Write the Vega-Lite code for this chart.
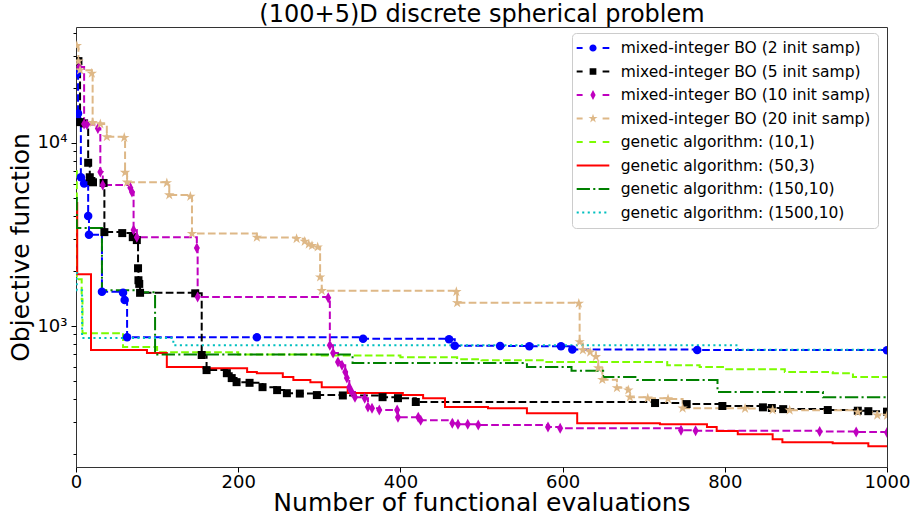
{
"$schema": "https://vega.github.io/schema/vega-lite/v6.json",
"width": 811, "height": 440,
"autosize": {"type": "none"},
"padding": {"left": 76, "top": 27, "right": 24, "bottom": 54},
"background": "white",
"config": {"font": "DejaVu Sans", "view": {"stroke": "#333", "strokeWidth": 1}, "axis": {"grid": false, "domain": false, "tickColor": "#000", "labelColor": "#000", "titleColor": "#000", "titleFontWeight": "normal"}},
"data": {"values": [
{"series":"mixed-integer BO (2 init samp)","x":1,"y":24000},{"series":"mixed-integer BO (2 init samp)","x":2.5,"y":14500},{"series":"mixed-integer BO (2 init samp)","x":3.5,"y":13200},{"series":"mixed-integer BO (2 init samp)","x":6,"y":6500},{"series":"mixed-integer BO (2 init samp)","x":10,"y":6000},{"series":"mixed-integer BO (2 init samp)","x":15,"y":3990},{"series":"mixed-integer BO (2 init samp)","x":16,"y":3150},{"series":"mixed-integer BO (2 init samp)","x":32,"y":1540},{"series":"mixed-integer BO (2 init samp)","x":58,"y":1520},{"series":"mixed-integer BO (2 init samp)","x":60,"y":1390},{"series":"mixed-integer BO (2 init samp)","x":63,"y":870},{"series":"mixed-integer BO (2 init samp)","x":223,"y":868},{"series":"mixed-integer BO (2 init samp)","x":354,"y":852},{"series":"mixed-integer BO (2 init samp)","x":460,"y":848},{"series":"mixed-integer BO (2 init samp)","x":467,"y":780},{"series":"mixed-integer BO (2 init samp)","x":523,"y":778},{"series":"mixed-integer BO (2 init samp)","x":559,"y":777},{"series":"mixed-integer BO (2 init samp)","x":598,"y":775},{"series":"mixed-integer BO (2 init samp)","x":612,"y":745},{"series":"mixed-integer BO (2 init samp)","x":766,"y":740},{"series":"mixed-integer BO (2 init samp)","x":1000,"y":738},
{"series":"mixed-integer BO (5 init samp)","x":3,"y":28000},{"series":"mixed-integer BO (5 init samp)","x":5,"y":13000},{"series":"mixed-integer BO (5 init samp)","x":10,"y":12800},{"series":"mixed-integer BO (5 init samp)","x":15,"y":7800},{"series":"mixed-integer BO (5 init samp)","x":17,"y":6500},{"series":"mixed-integer BO (5 init samp)","x":19,"y":6200},{"series":"mixed-integer BO (5 init samp)","x":21,"y":6100},{"series":"mixed-integer BO (5 init samp)","x":34,"y":6050},{"series":"mixed-integer BO (5 init samp)","x":35,"y":3260},{"series":"mixed-integer BO (5 init samp)","x":57,"y":3220},{"series":"mixed-integer BO (5 init samp)","x":70,"y":3060},{"series":"mixed-integer BO (5 init samp)","x":75,"y":2950},{"series":"mixed-integer BO (5 init samp)","x":76.5,"y":2070},{"series":"mixed-integer BO (5 init samp)","x":77,"y":1780},{"series":"mixed-integer BO (5 init samp)","x":78,"y":1700},{"series":"mixed-integer BO (5 init samp)","x":79,"y":1520},{"series":"mixed-integer BO (5 init samp)","x":147,"y":1510},{"series":"mixed-integer BO (5 init samp)","x":155,"y":695},{"series":"mixed-integer BO (5 init samp)","x":161,"y":575},{"series":"mixed-integer BO (5 init samp)","x":186,"y":553},{"series":"mixed-integer BO (5 init samp)","x":192,"y":520},{"series":"mixed-integer BO (5 init samp)","x":198,"y":494},{"series":"mixed-integer BO (5 init samp)","x":214,"y":490},{"series":"mixed-integer BO (5 init samp)","x":230,"y":464},{"series":"mixed-integer BO (5 init samp)","x":248,"y":447},{"series":"mixed-integer BO (5 init samp)","x":260,"y":430},{"series":"mixed-integer BO (5 init samp)","x":276,"y":428},{"series":"mixed-integer BO (5 init samp)","x":297,"y":420},{"series":"mixed-integer BO (5 init samp)","x":329,"y":418},{"series":"mixed-integer BO (5 init samp)","x":378,"y":409},{"series":"mixed-integer BO (5 init samp)","x":397,"y":404},{"series":"mixed-integer BO (5 init samp)","x":419,"y":385},{"series":"mixed-integer BO (5 init samp)","x":714,"y":380},{"series":"mixed-integer BO (5 init samp)","x":753,"y":375},{"series":"mixed-integer BO (5 init samp)","x":797,"y":366},{"series":"mixed-integer BO (5 init samp)","x":847,"y":360},{"series":"mixed-integer BO (5 init samp)","x":858,"y":357},{"series":"mixed-integer BO (5 init samp)","x":872,"y":352},{"series":"mixed-integer BO (5 init samp)","x":927,"y":348},{"series":"mixed-integer BO (5 init samp)","x":964,"y":345},{"series":"mixed-integer BO (5 init samp)","x":977,"y":343},{"series":"mixed-integer BO (5 init samp)","x":1000,"y":341},
{"series":"mixed-integer BO (10 init samp)","x":4,"y":26000},{"series":"mixed-integer BO (10 init samp)","x":10,"y":12700},{"series":"mixed-integer BO (10 init samp)","x":13.5,"y":12600},{"series":"mixed-integer BO (10 init samp)","x":27,"y":12000},{"series":"mixed-integer BO (10 init samp)","x":30,"y":6950},{"series":"mixed-integer BO (10 init samp)","x":33,"y":5900},{"series":"mixed-integer BO (10 init samp)","x":67,"y":5700},{"series":"mixed-integer BO (10 init samp)","x":69,"y":5400},{"series":"mixed-integer BO (10 init samp)","x":71,"y":3350},{"series":"mixed-integer BO (10 init samp)","x":75,"y":3060},{"series":"mixed-integer BO (10 init samp)","x":149,"y":2670},{"series":"mixed-integer BO (10 init samp)","x":150,"y":1440},{"series":"mixed-integer BO (10 init samp)","x":311,"y":1430},{"series":"mixed-integer BO (10 init samp)","x":313,"y":787},{"series":"mixed-integer BO (10 init samp)","x":317,"y":712},{"series":"mixed-integer BO (10 init samp)","x":323,"y":636},{"series":"mixed-integer BO (10 init samp)","x":328,"y":612},{"series":"mixed-integer BO (10 init samp)","x":332,"y":561},{"series":"mixed-integer BO (10 init samp)","x":334,"y":520},{"series":"mixed-integer BO (10 init samp)","x":337,"y":464},{"series":"mixed-integer BO (10 init samp)","x":340,"y":436},{"series":"mixed-integer BO (10 init samp)","x":344,"y":409},{"series":"mixed-integer BO (10 init samp)","x":356,"y":404},{"series":"mixed-integer BO (10 init samp)","x":360,"y":361},{"series":"mixed-integer BO (10 init samp)","x":365,"y":356},{"series":"mixed-integer BO (10 init samp)","x":374,"y":348},{"series":"mixed-integer BO (10 init samp)","x":396,"y":348},{"series":"mixed-integer BO (10 init samp)","x":397,"y":318},{"series":"mixed-integer BO (10 init samp)","x":422,"y":318},{"series":"mixed-integer BO (10 init samp)","x":425,"y":306},{"series":"mixed-integer BO (10 init samp)","x":464,"y":295},{"series":"mixed-integer BO (10 init samp)","x":471,"y":291},{"series":"mixed-integer BO (10 init samp)","x":483,"y":291},{"series":"mixed-integer BO (10 init samp)","x":496,"y":288},{"series":"mixed-integer BO (10 init samp)","x":582,"y":281},{"series":"mixed-integer BO (10 init samp)","x":597,"y":277},{"series":"mixed-integer BO (10 init samp)","x":746,"y":270},{"series":"mixed-integer BO (10 init samp)","x":764,"y":268},{"series":"mixed-integer BO (10 init samp)","x":917,"y":266},{"series":"mixed-integer BO (10 init samp)","x":962,"y":264},{"series":"mixed-integer BO (10 init samp)","x":1000,"y":262},
{"series":"mixed-integer BO (20 init samp)","x":1,"y":34000},{"series":"mixed-integer BO (20 init samp)","x":3,"y":28000},{"series":"mixed-integer BO (20 init samp)","x":5,"y":25000},{"series":"mixed-integer BO (20 init samp)","x":19.5,"y":24000},{"series":"mixed-integer BO (20 init samp)","x":20.5,"y":12900},{"series":"mixed-integer BO (20 init samp)","x":30,"y":12700},{"series":"mixed-integer BO (20 init samp)","x":38,"y":10800},{"series":"mixed-integer BO (20 init samp)","x":59.5,"y":10700},{"series":"mixed-integer BO (20 init samp)","x":60.5,"y":6900},{"series":"mixed-integer BO (20 init samp)","x":63,"y":6100},{"series":"mixed-integer BO (20 init samp)","x":112,"y":6050},{"series":"mixed-integer BO (20 init samp)","x":115,"y":5200},{"series":"mixed-integer BO (20 init samp)","x":141,"y":5100},{"series":"mixed-integer BO (20 init samp)","x":143,"y":3200},{"series":"mixed-integer BO (20 init samp)","x":223,"y":3050},{"series":"mixed-integer BO (20 init samp)","x":272,"y":3000},{"series":"mixed-integer BO (20 init samp)","x":282,"y":2900},{"series":"mixed-integer BO (20 init samp)","x":287,"y":2800},{"series":"mixed-integer BO (20 init samp)","x":291,"y":2750},{"series":"mixed-integer BO (20 init samp)","x":298,"y":2700},{"series":"mixed-integer BO (20 init samp)","x":301,"y":1850},{"series":"mixed-integer BO (20 init samp)","x":303,"y":1560},{"series":"mixed-integer BO (20 init samp)","x":469,"y":1540},{"series":"mixed-integer BO (20 init samp)","x":470,"y":1340},{"series":"mixed-integer BO (20 init samp)","x":620,"y":1330},{"series":"mixed-integer BO (20 init samp)","x":621,"y":820},{"series":"mixed-integer BO (20 init samp)","x":625,"y":740},{"series":"mixed-integer BO (20 init samp)","x":634,"y":720},{"series":"mixed-integer BO (20 init samp)","x":641,"y":680},{"series":"mixed-integer BO (20 init samp)","x":644,"y":590},{"series":"mixed-integer BO (20 init samp)","x":649,"y":510},{"series":"mixed-integer BO (20 init samp)","x":667,"y":460},{"series":"mixed-integer BO (20 init samp)","x":681,"y":447},{"series":"mixed-integer BO (20 init samp)","x":683,"y":409},{"series":"mixed-integer BO (20 init samp)","x":705,"y":404},{"series":"mixed-integer BO (20 init samp)","x":730,"y":400},{"series":"mixed-integer BO (20 init samp)","x":748,"y":356},{"series":"mixed-integer BO (20 init samp)","x":825,"y":355},{"series":"mixed-integer BO (20 init samp)","x":859,"y":348},{"series":"mixed-integer BO (20 init samp)","x":880,"y":347},{"series":"mixed-integer BO (20 init samp)","x":964,"y":339},{"series":"mixed-integer BO (20 init samp)","x":988,"y":326},{"series":"mixed-integer BO (20 init samp)","x":1000,"y":325},
{"series":"genetic algorithm: (10,1)","x":0,"y":7000},{"series":"genetic algorithm: (10,1)","x":1,"y":1800},{"series":"genetic algorithm: (10,1)","x":7,"y":1400},{"series":"genetic algorithm: (10,1)","x":8,"y":915},{"series":"genetic algorithm: (10,1)","x":58,"y":770},{"series":"genetic algorithm: (10,1)","x":100,"y":720},{"series":"genetic algorithm: (10,1)","x":200,"y":700},{"series":"genetic algorithm: (10,1)","x":300,"y":690},{"series":"genetic algorithm: (10,1)","x":400,"y":675},{"series":"genetic algorithm: (10,1)","x":470,"y":660},{"series":"genetic algorithm: (10,1)","x":500,"y":650},{"series":"genetic algorithm: (10,1)","x":580,"y":636},{"series":"genetic algorithm: (10,1)","x":729,"y":612},{"series":"genetic algorithm: (10,1)","x":769,"y":597},{"series":"genetic algorithm: (10,1)","x":800,"y":582},{"series":"genetic algorithm: (10,1)","x":874,"y":561},{"series":"genetic algorithm: (10,1)","x":933,"y":553},{"series":"genetic algorithm: (10,1)","x":958,"y":527},{"series":"genetic algorithm: (10,1)","x":1000,"y":527},
{"series":"genetic algorithm: (50,3)","x":0,"y":4700},{"series":"genetic algorithm: (50,3)","x":1.5,"y":1920},{"series":"genetic algorithm: (50,3)","x":18.5,"y":740},{"series":"genetic algorithm: (50,3)","x":87.5,"y":712},{"series":"genetic algorithm: (50,3)","x":112,"y":597},{"series":"genetic algorithm: (50,3)","x":157,"y":589},{"series":"genetic algorithm: (50,3)","x":211,"y":561},{"series":"genetic algorithm: (50,3)","x":223,"y":553},{"series":"genetic algorithm: (50,3)","x":255,"y":527},{"series":"genetic algorithm: (50,3)","x":268,"y":507},{"series":"genetic algorithm: (50,3)","x":289,"y":494},{"series":"genetic algorithm: (50,3)","x":303,"y":464},{"series":"genetic algorithm: (50,3)","x":335,"y":431},{"series":"genetic algorithm: (50,3)","x":403,"y":420},{"series":"genetic algorithm: (50,3)","x":428,"y":404},{"series":"genetic algorithm: (50,3)","x":455,"y":361},{"series":"genetic algorithm: (50,3)","x":508,"y":356},{"series":"genetic algorithm: (50,3)","x":556,"y":334},{"series":"genetic algorithm: (50,3)","x":618,"y":295},{"series":"genetic algorithm: (50,3)","x":720,"y":291},{"series":"genetic algorithm: (50,3)","x":778,"y":281},{"series":"genetic algorithm: (50,3)","x":790,"y":267},{"series":"genetic algorithm: (50,3)","x":816,"y":257},{"series":"genetic algorithm: (50,3)","x":859,"y":241},{"series":"genetic algorithm: (50,3)","x":871,"y":232},{"series":"genetic algorithm: (50,3)","x":933,"y":229},{"series":"genetic algorithm: (50,3)","x":977,"y":221},{"series":"genetic algorithm: (50,3)","x":1000,"y":221},
{"series":"genetic algorithm: (150,10)","x":0,"y":5000},{"series":"genetic algorithm: (150,10)","x":1,"y":3430},{"series":"genetic algorithm: (150,10)","x":32,"y":1570},{"series":"genetic algorithm: (150,10)","x":79,"y":1530},{"series":"genetic algorithm: (150,10)","x":97.5,"y":700},{"series":"genetic algorithm: (150,10)","x":341,"y":628},{"series":"genetic algorithm: (150,10)","x":556,"y":597},{"series":"genetic algorithm: (150,10)","x":611,"y":570},{"series":"genetic algorithm: (150,10)","x":650,"y":527},{"series":"genetic algorithm: (150,10)","x":692,"y":507},{"series":"genetic algorithm: (150,10)","x":791,"y":436},{"series":"genetic algorithm: (150,10)","x":921,"y":409},{"series":"genetic algorithm: (150,10)","x":1000,"y":409},
{"series":"genetic algorithm: (1500,10)","x":0,"y":1950},{"series":"genetic algorithm: (1500,10)","x":1,"y":1570},{"series":"genetic algorithm: (1500,10)","x":7.5,"y":860},{"series":"genetic algorithm: (1500,10)","x":120,"y":787},{"series":"genetic algorithm: (1500,10)","x":816,"y":742},{"series":"genetic algorithm: (1500,10)","x":1000,"y":742}
]},
"encoding": {
  "y": {"field": "y", "type": "quantitative", "scale": {"type": "log", "domain": [170, 43000], "nice": false},
        "axis": {"title": "Objective function", "values": [200,300,400,500,600,700,800,900,1000,2000,3000,4000,5000,6000,7000,8000,9000,10000,20000,30000,40000],
                 "labelExpr": "datum.value == 1000 ? '10³' : datum.value == 10000 ? '10⁴' : ''", "labelOverlap": false, "labelFontSize": 18, "labelPadding": 4,
                 "tickSize": {"condition": {"test": "datum.value == 1000 || datum.value == 10000", "value": 5}, "value": 3},
                 "titleFontSize": 25, "titlePadding": 3}}
},
"resolve": {"axis": {"x": "independent"}},
"layer": [
  {"mark": {"type": "point", "filled": true, "opacity": 0},
   "encoding": {
     "x": {"field": "x", "type": "quantitative", "scale": {"domain": [0, 1000], "nice": false, "zero": false},
           "axis": {"orient": "top", "title": "(100+5)D discrete spherical problem", "labels": false, "ticks": false, "domain": false, "titleFontSize": 24, "titlePadding": 1}},
     "color": {"field": "series", "type": "nominal",
       "scale": {"domain": ["mixed-integer BO (2 init samp)","mixed-integer BO (5 init samp)","mixed-integer BO (10 init samp)","mixed-integer BO (20 init samp)","genetic algorithm: (10,1)","genetic algorithm: (50,3)","genetic algorithm: (150,10)","genetic algorithm: (1500,10)"],
                 "range": ["#0000ff","#000000","#bf00bf","#deb887","#7cfc00","#ff0000","#008000","#00bfbf"]},
       "legend": {"title": null, "orient": "none", "legendX": 496, "legendY": 6, "padding": 7, "symbolSize": 256, "symbolStrokeWidth": 0, "symbolOffset": 6, "labelOffset": 19.7, "labelFontSize": 15.5, "labelColor": "#000", "labelLimit": 400, "rowPadding": 6.5, "strokeColor": "#cccccc", "fillColor": "rgba(255,255,255,0.8)", "cornerRadius": 4, "symbolOpacity": 1}},
     "shape": {"field": "series", "type": "nominal",
       "scale": {"domain": ["mixed-integer BO (2 init samp)","mixed-integer BO (5 init samp)","mixed-integer BO (10 init samp)","mixed-integer BO (20 init samp)","genetic algorithm: (10,1)","genetic algorithm: (50,3)","genetic algorithm: (150,10)","genetic algorithm: (1500,10)"],
                 "range": [
                   "M-2.04,-0.125H-1.3V0.125H-2.04ZM1.2,-0.125H2.04V0.125H1.2ZM-0.45,0A0.45,0.45 0 1,0 0.45,0A0.45,0.45 0 1,0 -0.45,0Z",
                   "M-2.04,-0.125H-1.3V0.125H-2.04ZM1.2,-0.125H2.04V0.125H1.2ZM-0.42,-0.42H0.42V0.42H-0.42Z",
                   "M-2.04,-0.125H-1.3V0.125H-2.04ZM1.2,-0.125H2.04V0.125H1.2ZM0,-0.62L0.33,0L0,0.62L-0.33,0Z",
                   "M-2.04,-0.125H-1.3V0.125H-2.04ZM1.2,-0.125H2.04V0.125H1.2ZM0,-0.6L0.134,-0.184L0.571,-0.185L0.217,0.07L0.353,0.485L0,0.228L-0.353,0.485L-0.217,0.07L-0.571,-0.185L-0.134,-0.184Z",
                   "M-2.04,-0.125H-1.29V0.125H-2.04ZM-0.46,-0.125H0.38V0.125H-0.46ZM1.21,-0.125H2.04V0.125H1.21Z",
                   "M-2.04,-0.125H2.04V0.125H-2.04Z",
                   "M-2.04,-0.125H-0.38V0.125H-2.04ZM0.03,-0.125H0.29V0.125H0.03ZM0.7,-0.125H2.04V0.125H0.7Z",
                   "M-2.04,-0.125H-1.78V0.125H-2.04ZM-1.35,-0.125H-1.09V0.125H-1.35ZM-0.66,-0.125H-0.4V0.125H-0.66ZM0.03,-0.125H0.29V0.125H0.03ZM0.72,-0.125H0.98V0.125H0.72ZM1.41,-0.125H1.67V0.125H1.41Z"
                 ]},
       "legend": {"title": null, "orient": "none", "legendX": 496, "legendY": 6, "padding": 7, "symbolSize": 256, "symbolStrokeWidth": 0, "symbolOffset": 6, "labelOffset": 19.7, "labelFontSize": 15.5, "labelColor": "#000", "labelLimit": 400, "rowPadding": 6.5, "strokeColor": "#cccccc", "fillColor": "rgba(255,255,255,0.8)", "cornerRadius": 4, "symbolOpacity": 1}}
   }},
  {"mark": {"type": "line", "interpolate": "step-after", "strokeWidth": 2, "clip": true},
   "encoding": {
     "x": {"field": "x", "type": "quantitative", "scale": {"domain": [0, 1000], "nice": false, "zero": false},
           "axis": {"orient": "bottom", "title": "Number of functional evaluations", "values": [0,200,400,600,800,1000], "format": "d", "labelFlush": false, "labelFontSize": 18, "tickSize": 5, "labelPadding": 1, "titleFontSize": 25, "titlePadding": -1}},
     "color": {"field": "series", "type": "nominal",
       "scale": {"domain": ["mixed-integer BO (2 init samp)","mixed-integer BO (5 init samp)","mixed-integer BO (10 init samp)","mixed-integer BO (20 init samp)","genetic algorithm: (10,1)","genetic algorithm: (50,3)","genetic algorithm: (150,10)","genetic algorithm: (1500,10)"],
                 "range": ["#0000ff","#000000","#bf00bf","#deb887","#7cfc00","#ff0000","#008000","#00bfbf"]},
       "legend": null},
     "strokeDash": {"field": "series", "type": "nominal",
       "scale": {"domain": ["mixed-integer BO (2 init samp)","mixed-integer BO (5 init samp)","mixed-integer BO (10 init samp)","mixed-integer BO (20 init samp)","genetic algorithm: (10,1)","genetic algorithm: (50,3)","genetic algorithm: (150,10)","genetic algorithm: (1500,10)"],
                 "range": [[7.7,3.3],[7.7,3.3],[7.7,3.3],[7.7,3.3],[7.7,3.3],[1,0],[13.3,3.3,2.1,3.3],[2.1,3.4]]},
       "legend": null}
   }},
  {"transform": [{"filter": "datum.series === 'mixed-integer BO (2 init samp)'"}],
   "mark": {"type": "point", "shape": "circle", "filled": true, "color": "#0000ff", "opacity": 1, "size": 72, "clip": true},
   "encoding": {"x": {"field": "x", "type": "quantitative", "axis": null}}},
  {"transform": [{"filter": "datum.series === 'mixed-integer BO (5 init samp)'"}],
   "mark": {"type": "point", "shape": "square", "filled": true, "color": "#000000", "opacity": 1, "size": 64, "clip": true},
   "encoding": {"x": {"field": "x", "type": "quantitative", "axis": null}}},
  {"transform": [{"filter": "datum.series === 'mixed-integer BO (10 init samp)'"}],
   "mark": {"type": "point", "shape": "M0,-1L0.55,0L0,1L-0.55,0Z", "filled": true, "color": "#bf00bf", "opacity": 1, "size": 121, "clip": true},
   "encoding": {"x": {"field": "x", "type": "quantitative", "axis": null}}},
  {"transform": [{"filter": "datum.series === 'mixed-integer BO (20 init samp)'"}],
   "mark": {"type": "point", "shape": "M0,-1L0.223,-0.307L0.951,-0.309L0.361,0.117L0.588,0.809L0,0.38L-0.588,0.809L-0.361,0.117L-0.951,-0.309L-0.223,-0.307Z", "filled": true, "color": "#deb887", "opacity": 1, "size": 121, "clip": true},
   "encoding": {"x": {"field": "x", "type": "quantitative", "axis": null}}}
]
}
